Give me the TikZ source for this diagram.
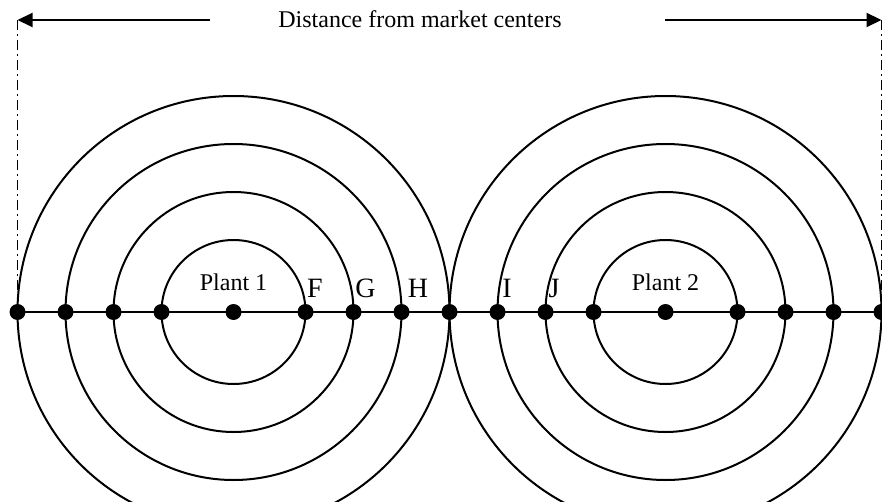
\documentclass[tikz,border=0pt]{standalone}
\usepackage{fontspec}
\setmainfont{Liberation Serif}
\usetikzlibrary{arrows.meta}
\tikzset{
  ring/.style={draw=black,line width=1pt},
  axisline/.style={draw=black,line width=1pt},
  dot/.style={circle,fill=black,inner sep=0pt,minimum size=8pt},
  arr/.style={-{Triangle[length=7.5pt,width=7pt]},line width=1pt},
  guide/.style={line width=0.5pt,dash pattern=on 5pt off 2pt on 1pt off 2pt},
  lab/.style={font=\fontsize{14}{16}\selectfont,anchor=base,inner sep=0pt},
  plant/.style={font=\fontsize{12}{14}\selectfont,anchor=base,inner sep=0pt}
}
\begin{document}
\begin{tikzpicture}[x=0.5pt,y=0.5pt]
  \useasboundingbox (0,0) rectangle (882,-502);
  \clip (0,0) rectangle (882,-502);
  \coordinate (c1) at (233.5,-312);
  \coordinate (c2) at (665.5,-312);
  \foreach \r in {72,120,168,216}{
    \draw[ring] (c1) circle[radius=\r];
    \draw[ring] (c2) circle[radius=\r];
  }

  % points on the axis
  \foreach \x [count=\i] in {17.5,65.5,113.5,161.5,233.5,305.5,353.5,401.5,449.5,497.5,545.5,593.5,665.5,737.5,785.5,833.5,881.5}{
    \node[dot] (p\i) at (\x,-312) {};
  }
  \draw[axisline] (p1.center) -- (p17.center);

  % distance arrows
  \coordinate (tl) at (17.5,-20);
  \coordinate (tr) at (881.5,-20);
  \coordinate (al) at (210,-20);
  \coordinate (ar) at (665,-20);
  \node[plant] (title) at (420,-28) {Distance from market centers};
  \draw[arr] (al) -- (tl);
  \draw[arr] (ar) -- (tr);
  \draw[guide] (tl) -- (p1.center);
  \draw[guide] (tr) -- (p17.center);

  \node[plant] (plant1) at (233.5,-290) {Plant 1};
  \node[plant] (plant2) at (665.5,-290) {Plant 2};
  \node[lab] (F) at (315,-297) {F};
  \node[lab] (G) at (365.5,-297) {G};
  \node[lab] (H) at (418,-297) {H};
  \node[lab] (I) at (507,-297) {I};
  \node[lab] (J) at (554,-297) {J};
\end{tikzpicture}
\end{document}
